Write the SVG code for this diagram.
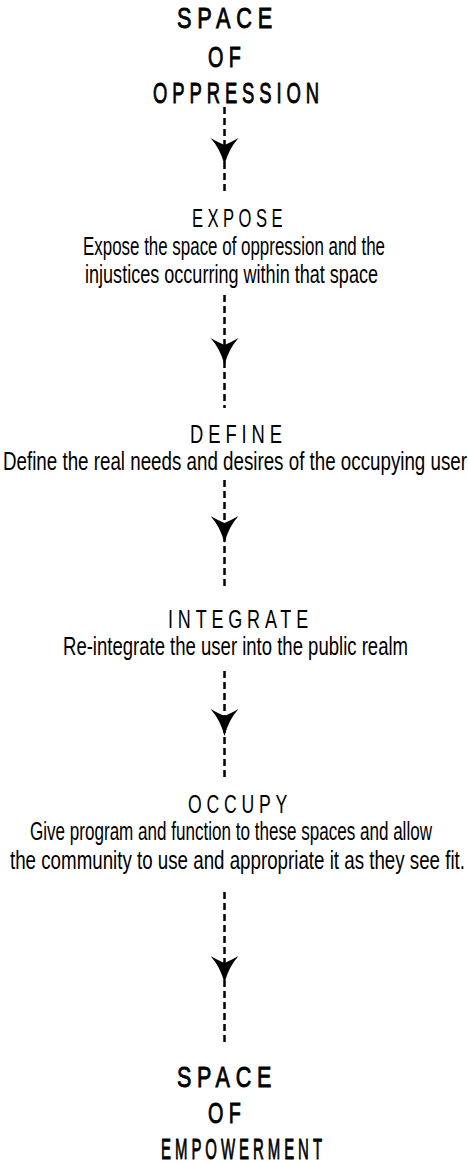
<svg xmlns="http://www.w3.org/2000/svg" width="468" height="1163" viewBox="0 0 468 1163">
<defs>
<style>
text{font-family:"Liberation Sans",Arial,sans-serif;fill:#000;}
.title{font-size:30px;letter-spacing:8px;stroke:#000;stroke-width:0.9px;}
.label{font-size:26px;letter-spacing:7px;}
.body{font-size:25px;}
.dash{stroke:#000;stroke-width:2.5;stroke-dasharray:7 4;fill:none;}
.head{fill:#000;}
</style>
<path id="ah" class="head" d="M0,0 Q-4,-16 -14,-27 Q-5,-22 0,-20 Q5,-22 14,-27 Q4,-16 0,0 Z"/>
</defs>
<rect width="468" height="1163" fill="#fff"/>
<g id="connectors">
<line class="dash" x1="224.5" y1="107" x2="224.5" y2="195"/>
<use href="#ah" x="224.5" y="165"/>
<line class="dash" x1="224.5" y1="295" x2="224.5" y2="408"/>
<use href="#ah" x="224.5" y="365"/>
<line class="dash" x1="224.5" y1="480" x2="224.5" y2="588"/>
<use href="#ah" x="224.5" y="543"/>
<line class="dash" x1="224.5" y1="671" x2="224.5" y2="780"/>
<use href="#ah" x="224.5" y="736"/>
<line class="dash" x1="224.5" y1="892" x2="224.5" y2="1043"/>
<use href="#ah" x="224.5" y="983"/>
</g>
<g id="space-of-oppression">
<text class="title" x="177" y="28" textLength="101" lengthAdjust="spacingAndGlyphs">SPACE</text>
<text class="title" x="208" y="67" textLength="38" lengthAdjust="spacingAndGlyphs">OF</text>
<text class="title" x="153" y="103" textLength="171" lengthAdjust="spacingAndGlyphs">OPPRESSION</text>
</g>
<g id="expose">
<text class="label" x="192" y="227" textLength="95" lengthAdjust="spacingAndGlyphs">EXPOSE</text>
<text class="body" x="83" y="255" textLength="302" lengthAdjust="spacingAndGlyphs">Expose the space of oppression and the</text>
<text class="body" x="85" y="283" textLength="293" lengthAdjust="spacingAndGlyphs">injustices occurring within that space</text>
</g>
<g id="define">
<text class="label" x="190" y="443" textLength="97" lengthAdjust="spacingAndGlyphs">DEFINE</text>
<text class="body" x="3" y="470" textLength="464" lengthAdjust="spacingAndGlyphs">Define the real needs and desires of the occupying user</text>
</g>
<g id="integrate">
<text class="label" x="168" y="628" textLength="145" lengthAdjust="spacingAndGlyphs">INTEGRATE</text>
<text class="body" x="63" y="655" textLength="345" lengthAdjust="spacingAndGlyphs">Re-integrate the user into the public realm</text>
</g>
<g id="occupy">
<text class="label" x="188" y="813" textLength="104" lengthAdjust="spacingAndGlyphs">OCCUPY</text>
<text class="body" x="30" y="840" textLength="402" lengthAdjust="spacingAndGlyphs">Give program and function to these spaces and allow</text>
<text class="body" x="10" y="869" textLength="455" lengthAdjust="spacingAndGlyphs">the community to use and appropriate it as they see fit.</text>
</g>
<g id="space-of-empowerment">
<text class="title" x="177" y="1087" textLength="100" lengthAdjust="spacingAndGlyphs">SPACE</text>
<text class="title" x="208" y="1123" textLength="38" lengthAdjust="spacingAndGlyphs">OF</text>
<text class="title" x="161" y="1159" textLength="165" lengthAdjust="spacingAndGlyphs">EMPOWERMENT</text>
</g>
</svg>
